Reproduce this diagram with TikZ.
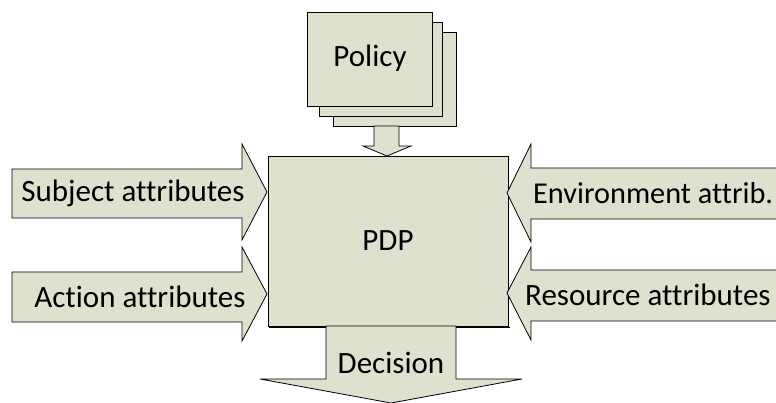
\documentclass[tikz,border=0pt]{standalone}
\usepackage{fontspec}
\setmainfont[Ligatures=NoCommon]{Carlito}
\definecolor{boxfill}{RGB}{221,226,206}
\definecolor{shade}{RGB}{170,170,170}
\tikzset{
  part/.style={fill=boxfill, draw=black, line width=0.8pt, line join=miter},
  lbl/.style={font=\fontsize{31}{36}\selectfont, inner sep=0pt},
}
\begin{document}
\begin{tikzpicture}[x=1pt,y=-1pt]
\useasboundingbox (0,0) rectangle (776,403);
\begin{scope}
\clip (0,0) rectangle (776,403);
% stacked policy sheets
\draw[part] (333,32) rectangle (456,126);
\draw[part] (319,22) rectangle (442,116);
\draw[part] (307,12) rectangle (432,106);
\node[lbl] (policy) at (370,58) {Policy};
% policy feeding the PDP
\draw[part] (374,126) -- (399,126) -- (399,146) -- (411,146) -- (387,156)
  -- (363,146) -- (374,146) -- cycle;
% decision point
\draw[shade, line width=0.8pt] (269.5,157.5) -- (269.5,327.5) -- (509.5,327.5);
\draw[part] (268,156) rectangle (508,326);
\node[lbl] (pdp) at (388,241) {PDP};
% decision output
\draw[part] (326,326) -- (456,326) -- (456,379) -- (522,379) -- (391,403)
  -- (260,379) -- (326,379) -- cycle;
\node[lbl] (decision) at (391,363) {Decision};
% left inputs
\draw[part] (12,169) -- (242,169) -- (242,144) -- (267,192) -- (242,240)
  -- (242,218) -- (12,218) -- cycle;
\node[lbl] (subject) at (133,193) {Subject attributes};
\draw[part] (12,272) -- (242,272) -- (242,247) -- (267,294) -- (242,341)
  -- (242,322) -- (12,322) -- cycle;
\node[lbl] (action) at (140,297) {Action attributes};
% right inputs
\draw[part] (790,168) -- (531,168) -- (531,144) -- (507,193) -- (531,242)
  -- (531,219) -- (790,219) -- cycle;
\node[lbl, anchor=west, font=\fontsize{30.3}{36}\selectfont] (environment)
  at (533,193) {Environment attrib.};
\draw[part] (790,270) -- (531,270) -- (531,247) -- (507,293) -- (531,340)
  -- (531,321) -- (790,321) -- cycle;
\node[lbl, anchor=west] (resource) at (525,295) {Resource attributes};
\end{scope}
\end{tikzpicture}
\end{document}
